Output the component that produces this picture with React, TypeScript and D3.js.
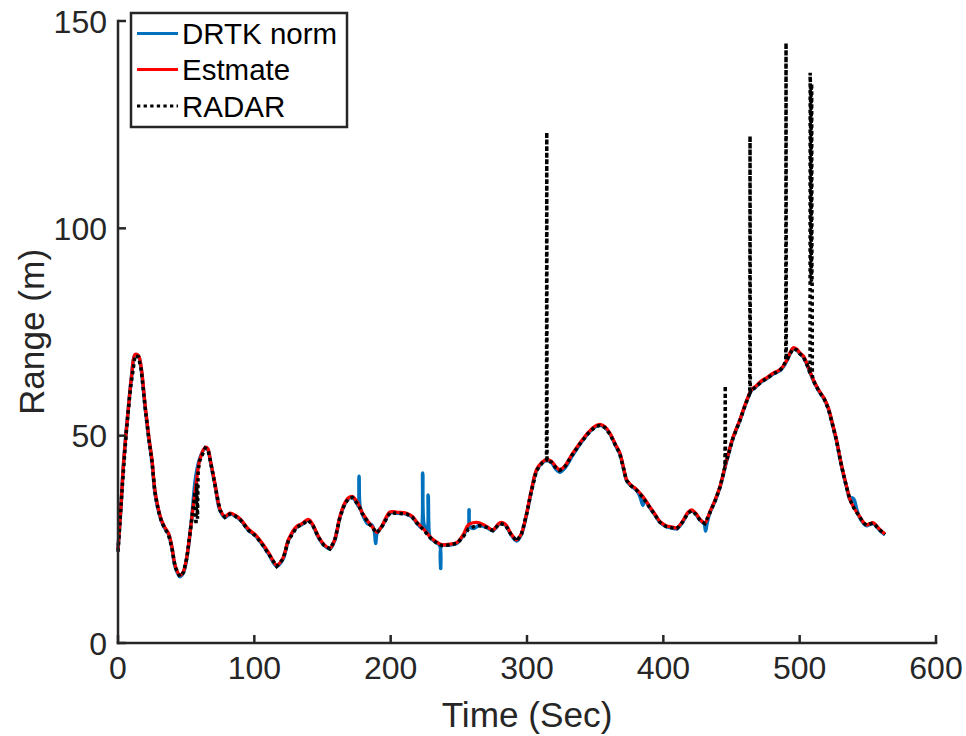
import React from "react";
import * as d3 from "d3";

// ---------- DATA ----------
const estimateTime = [0,2,4,6,8,10,12.5,15,17,20,22.5,25,27,29.5,32,34.5,37,39.5,42,45.5,48,50.5,54,57.7,60,64,66,67.5,71,74.8,78.5,82,86,90,95.6,101,106.6,111,116.4,121,125,131,135,139.6,143,147,151,155.5,159,162.8,166,169,172,176.3,179,183,187,190,194,199.5,205,211.7,216,219,224,229,233,237.4,242,248.4,253,257,260.4,265,270.4,275,280,284,288,292.4,296,299.8,303,307,311,314.5,318,321,324,328,333,339,345,350,353.5,357,361,365,368,371,373,376,380.5,385,390,394,397.5,402,406,410,414,418,420.8,424,427,430.5,434,438,441.6,446.5,451,456.2,460,464.7,468,472,476,480.6,485,488,491,493,495.3,498,500,502.7,506,510,514,518,521,524,527,530,532,535,537,540,544,547,549,551.5,554,557,560,562.6];
const estimateRange = [22.5,32,43,51,58,64.5,69.6,69.3,66.5,57,50,44,37,32.5,29.5,27.8,26.5,23.3,18.6,16.3,17.3,20.8,29.7,39.4,44.2,47.2,46.8,44.5,38.6,32.3,30.5,31.3,30.8,29.8,27.5,26,23.7,21.5,18.8,20.5,24.9,28.1,28.8,29.8,28.5,25.7,23.8,22.9,25,30.5,33.5,35,35.3,33.5,31.5,29.5,27.8,26.7,28.5,31.6,31.5,31.3,30.5,29.2,27.5,25.6,24.5,23.7,23.8,24.2,26,28.5,29,29,28.1,27.3,29,28.7,26.5,24.9,26.5,31.4,36.5,41.8,43.6,44.2,43.8,42.6,41.8,42.8,45.5,48.3,50.8,52.3,52.7,52.2,50.5,47.8,45.9,42,39.4,38.2,37,35.3,32.9,31,29.3,28.3,28,27.8,29.3,31.5,32.1,31.2,29.8,29,31.5,34.5,37.8,44.2,49.5,53.9,57.5,61.1,62,63.2,64,65.1,65.8,66.8,68.5,70,71.2,70.8,70,69.2,66.8,63.5,61,59,56.7,53,49,44,41,37,34.5,32.5,30.5,29,28.5,28.8,29,28,27,26.3];

const drtkTime = [0,2,4,6,8,10,12.5,15,17,20,22.5,25,27,29.5,32,34.5,37,39.5,42,45.5,48,50.5,54,57,60,64,66,67.5,71,74.8,78.5,82,86,90,95.6,101,106.6,111,116.4,121,125,131,135,139.6,143,147,151,155.5,159,162.8,166,169,172,175.5,176.3,176.8,177.4,179,183,186,188,189,190,194,199.5,205,211.7,216,219,222,223.5,224.5,226.8,227.5,228.2,229,233,236,236.7,237.4,242,248.4,253,256,257,257.5,258.2,260.4,265,270.4,275,280,284,288,292.4,296,299.8,303,307,311,314.5,318,321,324,328,333,339,345,350,353.5,357,361,365,368,371,373,376,380.5,383,385,386,390,394,397.5,402,406,410,414,418,420.8,424,427,430,431,432,434,438,441.6,446.5,451,456.2,460,464.7,468,472,476,480.6,485,488,491,493,495.3,498,500,502.7,506,510,514,518,521,524,527,530,532,535,537,538.5,540,542,544,547,549,551.5,554,557,560,562.6];
const drtkRange = [22.5,32,43,51,58,64.5,69.5,69.2,66,56.5,49.5,43.5,36.5,32.2,29.3,27.6,26.3,23,18.3,16,17,20.6,30,40,44.5,47,46.6,44.3,38.4,32,30.3,31.1,30.6,29.6,27.2,25.8,23.4,21.2,18.5,20.2,24.7,27.9,28.6,29.6,28.3,25.5,23.6,22.7,24.8,30.3,33.3,34.8,35.1,33.5,33,40.2,33.2,31.3,28.8,28.5,27,24,26.5,28.3,31.4,31.3,31.1,30.3,29,28,41,28.5,27,35.7,26.5,25.4,24.3,23.5,18,23.5,23.6,24,25.8,27.5,27.8,32.1,28,27.6,28.3,27.9,27.1,28.8,28.5,26.3,24.6,26.3,31.2,36.3,41.6,43.4,44,43.5,42,41.2,42.3,45,48,50.6,52.1,52.5,52,50.3,47.6,45.7,41.8,39.2,38,36.8,35.2,33.2,34.5,32.7,30.8,29.1,28.1,27.8,27.6,29.1,31.3,31.9,31,29.6,28.7,27,28.8,31.3,34.3,37.6,44,49.3,53.7,57.3,60.9,61.8,63,63.8,64.9,65.6,66.6,68.3,69.8,71,70.6,69.8,69,66.6,63.3,60.8,58.8,56.5,52.8,48.8,43.8,40.8,36.8,34.5,35,34.5,32,30.3,28.8,28.3,28.6,28.8,27.8,26.8,26.1];

const radarTime = [0,3,6,9,12.5,15,17,20,22.5,25,27,29.5,32,34.5,37,39.5,42,45.5,48,50.5,54,56.5,57.2,57.8,58.3,58.8,60,64,66,67.5,71,74.8,78.5,82,86,90,95.6,101,106.6,111,116.4,121,125,131,135,139.6,143,147,151,155.5,159,162.8,166,169,172,176.3,179,183,187,190,194,199.5,205,211.7,216,219,224,229,233,237.4,242,248.4,253,257,260.4,265,270.4,275,280,284,288,292.4,296,299.8,303,307,311,314.3,314.5,314.7,318,321,324,328,333,339,345,350,353.5,357,361,365,368,371,373,376,380.5,385,390,394,397.5,402,406,410,414,418,420.8,424,427,430.5,434,438,441.6,445.2,445.4,445.6,446.5,451,456.2,460,463.4,463.6,463.8,464.7,468,472,476,480.6,485,488,489.8,490,490.2,491,493,495.3,498,500,502.7,506,507.6,507.7,508,508.2,508.4,508.6,508.8,509,509.2,509.3,510,514,518,521,524,527,530,532,535,537,540,544,547,549,551.5,554,557,560,562.6];
const radarRange = [22,37,50.5,61,69.3,69,66,56.5,49.5,43.5,36.5,32,29.2,27.5,26.2,23,18.2,16,17,20.5,29.5,36.5,28.5,38.5,30,41.5,44,47,46.6,44.3,38.4,32,30.3,31.1,30.6,29.6,27.2,25.8,23.4,21.2,18.5,20.2,24.7,27.9,28.6,29.6,28.3,25.5,23.6,22.7,24.8,30.3,33.3,34.8,35.1,33.3,31.3,29.3,27.6,26.5,28.3,31.4,31.3,31.1,30.3,29,27.3,25.4,24.3,23.5,23.6,24,25.5,27.5,28,28.3,27.9,27.1,28.8,28.5,26.3,24.6,26.3,31.2,36.3,41.6,43.4,44,123.2,44,43.6,42.3,41.6,42.6,45.3,48.1,50.6,52.1,52.5,52,50.3,47.6,45.7,41.8,39.2,38,36.8,35.1,32.7,30.8,29.1,28.1,27.8,27.6,29.1,31.3,31.9,31,29.6,28.8,31.3,34.3,37.6,42.5,62,43.5,44,49.3,53.7,57.3,60.2,122.3,60.5,60.9,61.8,63,63.8,64.9,65.6,66.6,68.2,144.7,68.4,68.5,69.8,71,70.6,69.8,69,66.6,65,137.5,133,88,134,87,135,89,85.5,64.5,63.3,60.8,58.8,56.5,52.8,48.8,43.8,40.8,36.8,34.5,32.4,30.4,28.9,28.4,28.7,28.9,27.9,26.9,26.2];

const xTicks = [0, 100, 200, 300, 400, 500, 600];
const yTicks = [0, 50, 100, 150];
const legendLabels = ["DRTK norm", "Estmate", "RADAR"];

// ---------- CHART ----------
const W = 966, H = 736;
const left = 118, right = 936, top = 21, bottom = 643;
const axisColor = "#262626";
const font = "'Liberation Sans', Arial, Helvetica, sans-serif";

export default function App() {
  const x = d3.scaleLinear().domain([0, 600]).range([left, right]);
  const y = d3.scaleLinear().domain([0, 150]).range([bottom, top]);

  const line = d3
    .line<[number, number]>()
    .x((d) => x(d[0]))
    .y((d) => y(d[1]))
    .curve(d3.curveCatmullRom.alpha(0.5));
  const lineLin = d3
    .line<[number, number]>()
    .x((d) => x(d[0]))
    .y((d) => y(d[1]));

  const zip = (t: number[], v: number[]) => t.map((tt, i) => [tt, v[i]] as [number, number]);
  const drtk = zip(drtkTime, drtkRange);
  const est = zip(estimateTime, estimateRange);
  const radar = zip(radarTime, radarRange);

  const colors = ["#0072BD", "#FF0000", "#000000"];
  const legendRows = [33.5, 69.5, 106];

  return (
    <svg width={W} height={H} style={{ position: "absolute", left: 0, top: 0, background: "#fff" }} fontFamily={font}>
      <rect x={0} y={0} width={W} height={H} fill="#fff" />
      {/* series */}
      <path d={line(drtk) || ""} fill="none" stroke={colors[0]} strokeWidth={3.6} strokeLinejoin="round" />
      <path d={line(est) || ""} fill="none" stroke={colors[1]} strokeWidth={3.3} strokeLinejoin="round" />
      <path d={lineLin(radar) || ""} fill="none" stroke={colors[2]} strokeWidth={3.5} strokeDasharray="3.4 3.2" />

      {/* axes */}
      <line x1={left} y1={bottom} x2={right} y2={bottom} stroke={axisColor} strokeWidth={2.5} strokeLinecap="square" />
      <line x1={left} y1={bottom} x2={left} y2={top} stroke={axisColor} strokeWidth={2.5} strokeLinecap="square" />
      {xTicks.map((t) => (
        <g key={"x" + t}>
          <line x1={x(t)} x2={x(t)} y1={bottom} y2={bottom - 8} stroke={axisColor} strokeWidth={2.5} />
          <text x={x(t)} y={679} textAnchor="middle" fontSize={32} fill={axisColor}>{t}</text>
        </g>
      ))}
      {yTicks.map((t) => (
        <g key={"y" + t}>
          <line x1={left} x2={left + 8} y1={y(t)} y2={y(t)} stroke={axisColor} strokeWidth={2.5} />
          <text x={107} y={y(t) + 11.5} textAnchor="end" fontSize={32} fill={axisColor}>{t}</text>
        </g>
      ))}
      <text x={(left + right) / 2} y={727} textAnchor="middle" fontSize={35.2} fill={axisColor}>Time (Sec)</text>
      <text transform={`translate(44, ${(top + bottom) / 2}) rotate(-90)`} textAnchor="middle" fontSize={35.2} fill={axisColor}>Range (m)</text>

      {/* legend */}
      <rect x={131} y={13} width={216} height={114} fill="#fff" stroke={axisColor} strokeWidth={2.5} />
      {legendLabels.map((lab, i) => (
        <g key={lab}>
          <line x1={137} x2={178} y1={legendRows[i]} y2={legendRows[i]} stroke={colors[i]} strokeWidth={3}
            strokeDasharray={i === 2 ? "3.3 3.3" : undefined} />
          <text x={182} y={legendRows[i] + 10.7} fontSize={29.5} fill="#000">{lab}</text>
        </g>
      ))}
    </svg>
  );
}
